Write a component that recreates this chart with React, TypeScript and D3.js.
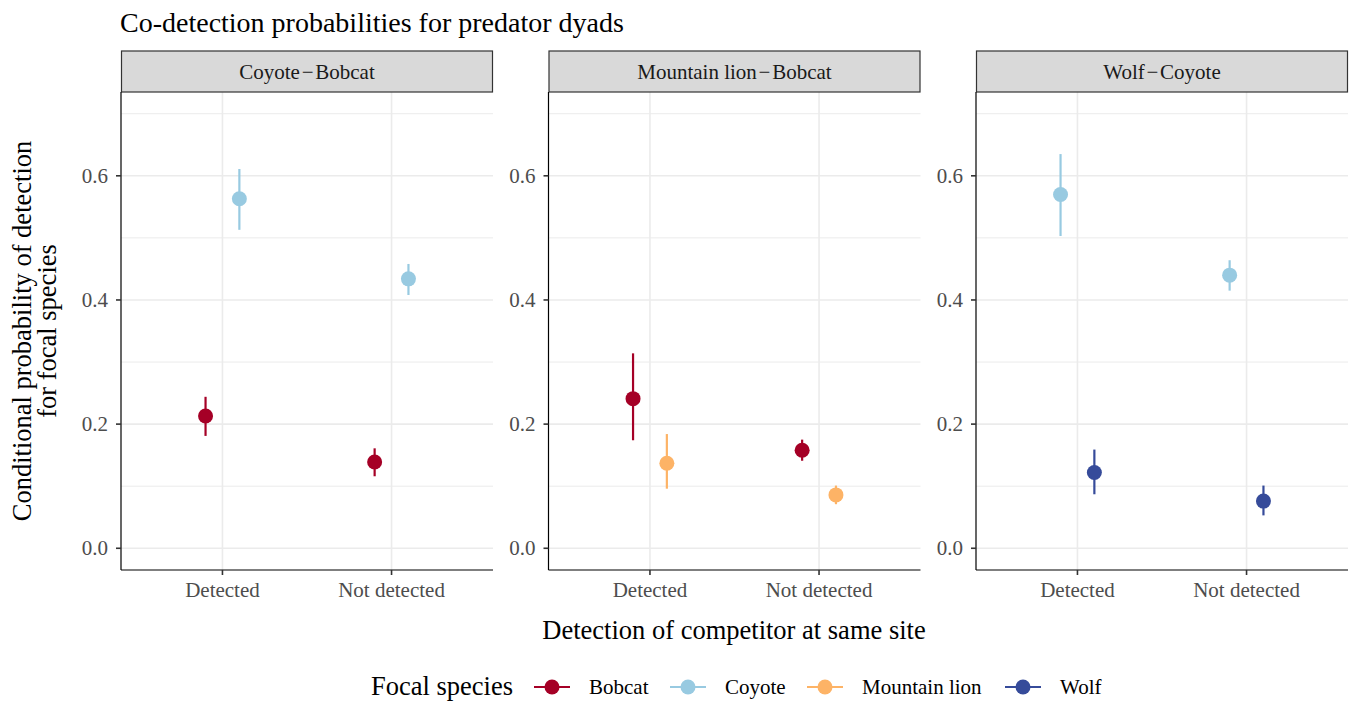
import React from "react";
import * as d3 from "d3";

// Facets, categories and species
const panelLabels = ["Coyote\u200A\u2212\u200ABobcat", "Mountain lion\u200A\u2212\u200ABobcat", "Wolf\u200A\u2212\u200ACoyote"];
const competitorStates = ["Detected", "Not detected"];
const species = ["Bobcat", "Coyote", "Mountain lion", "Wolf"];
const speciesColors = ["#A50026", "#98CAE1", "#FDB366", "#364B9A"];
const yTicks = [0, 0.2, 0.4, 0.6];
const yMinor = [0.1, 0.3, 0.5, 0.7];

// Estimates with intervals: [panel, focal species, competitor state, estimate, lower, upper]
const panelIndex = [0, 0, 0, 0, 1, 1, 1, 1, 2, 2, 2, 2];
const focalSpecies = ["Bobcat", "Coyote", "Bobcat", "Coyote", "Bobcat", "Mountain lion", "Bobcat", "Mountain lion", "Coyote", "Wolf", "Coyote", "Wolf"];
const competitor = ["Detected", "Detected", "Not detected", "Not detected", "Detected", "Detected", "Not detected", "Not detected", "Detected", "Detected", "Not detected", "Not detected"];
const estimate = [0.213, 0.563, 0.139, 0.434, 0.241, 0.137, 0.158, 0.086, 0.570, 0.122, 0.440, 0.076];
const lower = [0.181, 0.513, 0.116, 0.408, 0.174, 0.096, 0.141, 0.071, 0.503, 0.087, 0.415, 0.053];
const upper = [0.244, 0.611, 0.161, 0.458, 0.314, 0.184, 0.175, 0.101, 0.635, 0.159, 0.464, 0.101];

const FONT = '"Liberation Serif", "Times New Roman", serif';
const W = 1353;
const H = 702;
const panelLeft = [121, 548.5, 976];
const panelW = 372;
const panelTop = 92;
const panelBottom = 570;
const stripTop = 51;

export default function App() {
  const color = d3.scaleOrdinal<string, string>().domain(species).range(speciesColors);
  const y = d3.scaleLinear().domain([-0.035, 0.735]).range([panelBottom, panelTop]);
  const x = d3.scalePoint<string>().domain(competitorStates).range([0, panelW]).padding(0.6);
  const step = x.step();
  const dodge = 0.1 * step;

  const legendKeys = [552, 688, 825, 1023];

  return (
    <svg width={W} height={H} style={{ position: "absolute", left: 0, top: 0, background: "#fff" }} fontFamily={FONT}>
      <rect width={W} height={H} fill="#fff" />
      <text x={120} y={32} fontSize={28} fill="#000">Co-detection probabilities for predator dyads</text>

      {panelLabels.map((label, p) => {
        const left = panelLeft[p];
        const inPanel = d3.range(estimate.length).filter((i) => panelIndex[i] === p);
        const panelSpecies = Array.from(new Set(inPanel.map((i) => focalSpecies[i]))).sort();
        return (
          <g key={label} transform={`translate(${left},0)`}>
            {/* grid */}
            {yMinor.map((v) => (
              <line key={"mn" + v} x1={0} x2={panelW} y1={y(v)} y2={y(v)} stroke="#EBEBEB" strokeWidth={1} />
            ))}
            {yTicks.map((v) => (
              <line key={"mj" + v} x1={0} x2={panelW} y1={y(v)} y2={y(v)} stroke="#EBEBEB" strokeWidth={1.6} />
            ))}
            {competitorStates.map((c) => (
              <line key={"vx" + c} x1={x(c)} x2={x(c)} y1={panelTop} y2={panelBottom} stroke="#EBEBEB" strokeWidth={1.6} />
            ))}

            {/* strip */}
            <rect x={0.5} y={stripTop} width={panelW - 1} height={panelTop - stripTop} fill="#D9D9D9" stroke="#333333" strokeWidth={1.2} />
            <text x={panelW / 2} y={stripTop + 28} textAnchor="middle" fontSize={21} fill="#1A1A1A">{label}</text>

            {/* axes */}
            <line x1={0} x2={0} y1={panelTop} y2={panelBottom} stroke="#000" strokeWidth={1.2} />
            <line x1={0} x2={panelW} y1={panelBottom} y2={panelBottom} stroke="#000" strokeWidth={1.2} />
            {yTicks.map((v) => (
              <g key={"yt" + v}>
                <line x1={-5} x2={0} y1={y(v)} y2={y(v)} stroke="#333333" strokeWidth={1.6} />
                <text x={-13} y={y(v) + 7} textAnchor="end" fontSize={21} fill="#4D4D4D">{d3.format(".1f")(v)}</text>
              </g>
            ))}
            {competitorStates.map((c) => (
              <g key={"xt" + c}>
                <line x1={x(c)} x2={x(c)} y1={panelBottom} y2={panelBottom + 5} stroke="#333333" strokeWidth={1.6} />
                <text x={x(c)} y={597} textAnchor="middle" fontSize={21} fill="#4D4D4D">{c}</text>
              </g>
            ))}

            {/* estimates */}
            {inPanel.map((i) => {
              const k = panelSpecies.indexOf(focalSpecies[i]);
              const cx = (x(competitor[i]) as number) + (k === 0 ? -dodge : dodge);
              const col = color(focalSpecies[i]);
              return (
                <g key={"pt" + i}>
                  <line x1={cx} x2={cx} y1={y(lower[i])} y2={y(upper[i])} stroke={col} strokeWidth={2.2} />
                  <circle cx={cx} cy={y(estimate[i])} r={7.5} fill={col} />
                </g>
              );
            })}
          </g>
        );
      })}

      {/* axis titles */}
      <text x={734} y={639} textAnchor="middle" fontSize={26.5} fill="#000">Detection of competitor at same site</text>
      <g transform={`translate(31,${(panelTop + panelBottom) / 2}) rotate(-90)`}>
        <text x={0} y={0} textAnchor="middle" fontSize={26.5} fill="#000">Conditional probability of detection</text>
        <text x={0} y={25} textAnchor="middle" fontSize={26.5} fill="#000">for focal species</text>
      </g>

      {/* legend */}
      <text x={371} y={695} fontSize={26.5} fill="#000">Focal species</text>
      {species.map((s, i) => (
        <g key={"lg" + s}>
          <line x1={legendKeys[i] - 18} x2={legendKeys[i] + 18} y1={687} y2={687} stroke={color(s)} strokeWidth={2.2} />
          <circle cx={legendKeys[i]} cy={687} r={7.5} fill={color(s)} />
          <text x={legendKeys[i] + 37} y={694} fontSize={21} fill="#000">{s}</text>
        </g>
      ))}
    </svg>
  );
}
